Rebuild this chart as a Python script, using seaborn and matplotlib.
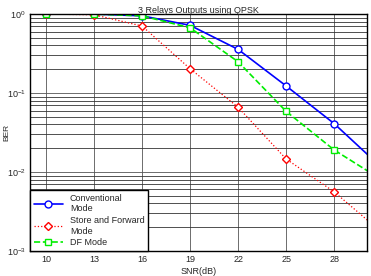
import matplotlib
matplotlib.use("Agg")
import matplotlib.pyplot as plt
import numpy as np
import pandas as pd
import seaborn as sns

sns.set_style("white")
plt.rcParams["font.family"] = ["Liberation Sans", "DejaVu Sans"]

snr = [10, 13, 16, 19, 22, 25, 28, 31]
ber_conv = [1.0, 1.0, 0.95, 0.72, 0.357, 0.123, 0.041, 0.0112]
ber_sf = [1.0, 0.98, 0.705, 0.203, 0.066, 0.0146, 0.0056, 0.0017]
ber_df = [1.0, 1.0, 0.95, 0.67, 0.249, 0.0586, 0.019, 0.0079]
labels = ["Conventional\nMode", "Store and Forward\nMode", "DF Mode"]

fig, ax = plt.subplots(figsize=(3.71, 2.76), dpi=100)
fig.subplots_adjust(left=0.081, right=0.989, top=0.949, bottom=0.091)

styles = [
    (ber_conv, "#0000ff", "-", "o", 1.2),
    (ber_sf, "#ff0000", ":", "D", 0.9),
    (ber_df, "#00ee00", "--", "s", 1.2),
]
for (vals, col, ls, mk, lw), lab in zip(styles, labels):
    df = pd.DataFrame({"SNR": snr, "BER": vals})
    sns.lineplot(data=df, x="SNR", y="BER", ax=ax, color=col, linestyle=ls,
                 marker=mk, markersize=5 if mk != "D" else 4,
                 markerfacecolor="white", markeredgecolor=col,
                 markeredgewidth=1.0, linewidth=lw, label=lab, clip_on=True)

ax.set_yscale("log")
ax.set_xlim(9, 30.05)
ax.set_ylim(1e-3, 1)
ax.set_xticks([10, 13, 16, 19, 22, 25, 28])
ax.set_yticks([1e-3, 1e-2, 1e-1, 1])
ax.grid(True, which="major", color="#555555", linewidth=0.6)
ax.grid(True, which="minor", axis="y", color="#333333", linewidth=0.6)
ax.tick_params(axis="both", which="both", direction="in", labelsize=6.5,
               length=2, pad=3)
ax.tick_params(axis="y", which="minor", length=1.5)
for sp in ax.spines.values():
    sp.set_color("black")
    sp.set_linewidth(1.0)

ax.set_title("3 Relays Outputs using QPSK", fontsize=6.5, pad=1)
ax.set_xlabel("SNR(dB)", fontsize=6.5, labelpad=2)
ax.set_ylabel("BER", fontsize=6)
ax.yaxis.set_label_coords(-0.057, 0.5)

leg = ax.legend(loc="lower left", fontsize=6.5, frameon=True, fancybox=False,
                edgecolor="black", framealpha=1, borderpad=0.4,
                handlelength=3.2, labelspacing=0.3, borderaxespad=0)
leg.get_frame().set_linewidth(1.0)

fig.savefig("out.png", dpi=100)
